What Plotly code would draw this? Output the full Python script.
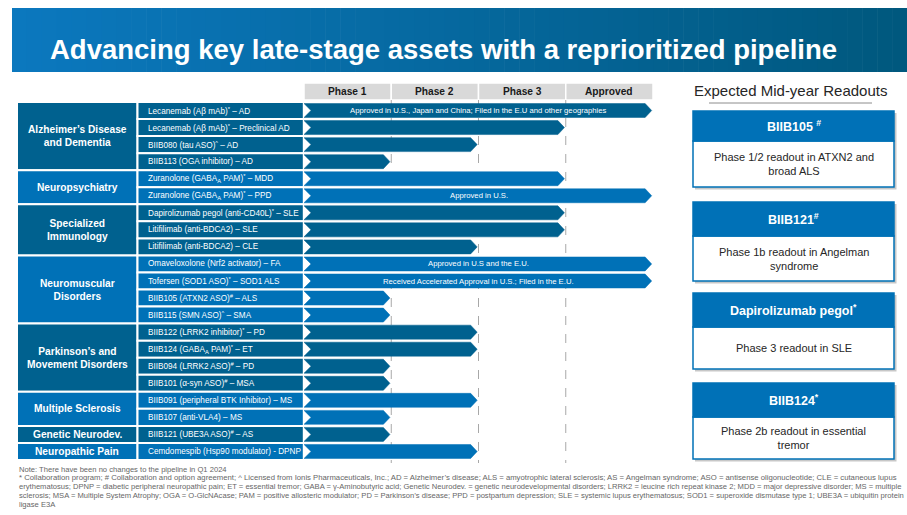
import plotly.graph_objects as go

# ---------------- data ----------------
categories = ["Alzheimer’s Disease<br>and Dementia", "Neuropsychiatry", "Specialized<br>Immunology",
              "Neuromuscular<br>Disorders", "Parkinson’s and<br>Movement Disorders", "Multiple Sclerosis",
              "Genetic Neurodev.", "Neuropathic Pain"]
category_sizes = [4, 2, 3, 4, 4, 2, 1, 1]

programs = [
    "Lecanemab (Aβ mAb)<sup>*</sup> – AD",
    "Lecanemab (Aβ mAb)<sup>*</sup> – Preclinical AD",
    "BIIB080 (tau ASO)<sup>^</sup> – AD",
    "BIIB113 (OGA inhibitor) – AD",
    "Zuranolone (GABA<sub>A</sub> PAM)<sup>*</sup> – MDD",
    "Zuranolone (GABA<sub>A</sub> PAM)<sup>*</sup> – PPD",
    "Dapirolizumab pegol (anti-CD40L)<sup>*</sup> – SLE",
    "Litifilimab (anti-BDCA2) – SLE",
    "Litifilimab (anti-BDCA2) – CLE",
    "Omaveloxolone (Nrf2 activator) – FA",
    "Tofersen (SOD1 ASO)<sup>*</sup> – SOD1 ALS",
    "BIIB105 (ATXN2 ASO)<sup>#</sup> – ALS",
    "BIIB115 (SMN ASO)<sup>^</sup> – SMA",
    "BIIB122 (LRRK2 inhibitor)<sup>*</sup> – PD",
    "BIIB124 (GABA<sub>A</sub> PAM)<sup>*</sup> – ET",
    "BIIB094 (LRRK2 ASO)<sup>#</sup> – PD",
    "BIIB101 (α-syn ASO)<sup>#</sup> – MSA",
    "BIIB091 (peripheral BTK Inhibitor) – MS",
    "BIIB107 (anti-VLA4) – MS",
    "BIIB121 (UBE3A ASO)<sup>#</sup> – AS",
    "Cemdomespib (Hsp90 modulator) - DPNP",
]
stage_reached = [4, 3, 2, 1, 3, 4, 3, 3, 2, 4, 4, 1, 1, 2, 2, 1, 1, 2, 1, 1, 2]
bar_notes = [
    "Approved in U.S., Japan and China; Filed in the E.U and other geographies",
    "", "", "", "",
    "Approved in U.S.",
    "", "", "",
    "Approved in U.S and the E.U.",
    "Received Accelerated Approval in U.S.; Filed in the E.U.",
    "", "", "", "", "", "", "", "", "", "",
]
phase_labels = ["Phase 1", "Phase 2", "Phase 3", "Approved"]

readout_titles = ["BIIB105 <sup>#</sup>", "BIIB121<sup>#</sup>", "Dapirolizumab pegol<sup>*</sup>", "BIIB124<sup>*</sup>"]
readout_texts = ["Phase 1/2 readout in ATXN2 and<br>broad ALS", "Phase 1b readout in Angelman<br>syndrome",
                 "Phase 3 readout in SLE", "Phase 2b readout in essential<br>tremor"]

title_text = "Advancing key late-stage assets with a reprioritized pipeline"
panel_title = "Expected Mid-year Readouts"
footnotes = [
    "Note: There have been no changes to the pipeline in Q1 2024",
    "* Collaboration program; # Collaboration and option agreement; ^ Licensed from Ionis Pharmaceuticals, Inc.; AD = Alzheimer’s disease; ALS = amyotrophic lateral sclerosis; AS = Angelman syndrome; ASO = antisense oligonucleotide; CLE = cutaneous lupus",
    "erythematosus; DPNP = diabetic peripheral neuropathic pain; ET = essential tremor; GABA = γ-Aminobutyric acid; Genetic Neurodev. = genetic neurodevelopmental disorders; LRRK2 = leucine rich repeat kinase 2; MDD = major depressive disorder; MS = multiple",
    "sclerosis; MSA = Multiple System Atrophy; OGA = O-GlcNAcase; PAM = positive allosteric modulator; PD = Parkinson’s disease; PPD = postpartum depression; SLE = systemic lupus erythematosus; SOD1 = superoxide dismutase type 1; UBE3A = ubiquitin protein",
    "ligase E3A",
]
footnote_sizes = [7.6, 7.72, 7.6, 7.6, 7.6]

# ---------------- style ----------------
W, H = 907, 515
FONT = "Liberation Sans, Arial, sans-serif"
DARK = "#00618f"
LIGHT = "#0071b7"
CAT_COLORS = [DARK, LIGHT, DARK, LIGHT, DARK, LIGHT, DARK, LIGHT]


def px(x):
    return x / W


def py(y):
    return 1 - y / H


N = len(programs)
row_cat = []
for ci, n in enumerate(category_sizes):
    row_cat += [ci] * n

fig = go.Figure()
shapes = []
annotations = []

# ---- title banner (horizontal gradient built from slices) ----
c0 = (11, 120, 190)
c1 = (0, 88, 126)
x_start, x_end = 12, 907
nslices = 60
step = (x_end - x_start) / nslices
for k in range(nslices):
    t = k / (nslices - 1)
    col = "rgb(%d,%d,%d)" % tuple(round(c0[j] + (c1[j] - c0[j]) * t) for j in range(3))
    shapes.append(dict(type="rect", xref="paper", yref="paper",
                       x0=px(x_start + k * step), x1=px(x_start + (k + 1) * step + 0.6),
                       y0=py(72), y1=py(8), fillcolor=col, line=dict(width=0), layer="below"))
annotations.append(dict(text="<b>" + title_text + "</b>", xref="paper", yref="paper",
                        x=px(48), y=py(50), xanchor="left", yanchor="middle", showarrow=False,
                        font=dict(family=FONT, size=27.5, color="white")))

# ---- phase header ----
for k, lab in enumerate(phase_labels):
    shapes.append(dict(type="rect", xref="x", yref="paper", x0=k, x1=k + 1, y0=py(100), y1=py(83),
                       fillcolor="#d9d9d9", line=dict(color="white", width=1.5), layer="below"))
    annotations.append(dict(text="<b>" + lab + "</b>", xref="x", yref="paper", x=k + 0.5, y=py(91.5),
                            showarrow=False, xanchor="center", yanchor="middle",
                            font=dict(family=FONT, size=10.2, color="#1a1a1a")))

# ---- dashed phase boundaries ----
for k in range(1, 4):
    shapes.append(dict(type="line", xref="x", yref="paper", x0=k, x1=k, y0=py(100), y1=py(463),
                       line=dict(color="#a8a8a8", width=1, dash="dash"), layer="below"))

# ---- left table ----
start = 0
for ci, (cat, n) in enumerate(zip(categories, category_sizes)):
    shapes.append(dict(type="rect", xref="paper", yref="y", x0=px(17), x1=px(137.5),
                       y0=start - 0.5, y1=start + n - 0.5, fillcolor=CAT_COLORS[ci],
                       line=dict(color="white", width=2), layer="below"))
    annotations.append(dict(text="<b>" + cat + "</b>", xref="paper", yref="y", x=px(77),
                            y=start + (n - 1) / 2, showarrow=False, xanchor="center", yanchor="middle",
                            font=dict(family=FONT, size=10.2, color="white")))
    start += n

for i, name in enumerate(programs):
    col = CAT_COLORS[row_cat[i]]
    shapes.append(dict(type="rect", xref="paper", yref="y", x0=px(137.5), x1=px(303.8),
                       y0=i - 0.5, y1=i + 0.5, fillcolor=col,
                       line=dict(color="white", width=2), layer="below"))
    annotations.append(dict(text=name, xref="paper", yref="y", x=px(145.5), y=i, showarrow=False,
                            xanchor="left", yanchor="middle",
                            font=dict(family=FONT, size=8.2, color="white")))

# ---- chevron bars ----
tip = 0.075
notch = 0.08
hh = 0.41
for i, v in enumerate(stage_reached):
    col = CAT_COLORS[row_cat[i]]
    end = v - 0.015
    xs = [0, end - tip, end, end - tip, 0, notch, 0]
    ys = [i - hh, i - hh, i, i + hh, i + hh, i, i - hh]
    fig.add_trace(go.Scatter(x=xs, y=ys, mode="lines", fill="toself", fillcolor=col,
                             line=dict(width=0.5, color=col), hoverinfo="skip", showlegend=False))
    if bar_notes[i]:
        annotations.append(dict(text=bar_notes[i], xref="x", yref="y", x=2, y=i, showarrow=False,
                                xanchor="center", yanchor="middle",
                                font=dict(family=FONT, size=7.7, color="white")))

# ---- right panel ----
annotations.append(dict(text=panel_title, xref="paper", yref="paper", x=px(790), y=py(90),
                        showarrow=False, xanchor="center", yanchor="middle",
                        font=dict(family=FONT, size=15, color="#262626")))
shapes.append(dict(type="line", xref="paper", yref="paper", x0=px(709), x1=px(872), y0=py(103), y1=py(103),
                   line=dict(color="#8c8c8c", width=1)))

cards = [(111, 141, 187), (202, 236, 281), (293, 327, 369), (383, 417, 459)]
cx0, cx1 = 693, 894
for (top, mid, bot), ttl, txt in zip(cards, readout_titles, readout_texts):
    # shadow
    shapes.append(dict(type="rect", xref="paper", yref="paper", x0=px(cx0 + 2), x1=px(cx1 + 2.5),
                       y0=py(bot + 2.5), y1=py(top + 2), fillcolor="rgba(0,0,0,0.22)", line=dict(width=0)))
    shapes.append(dict(type="rect", xref="paper", yref="paper", x0=px(cx0), x1=px(cx1),
                       y0=py(bot), y1=py(mid), fillcolor="white", line=dict(color=LIGHT, width=1.5)))
    shapes.append(dict(type="rect", xref="paper", yref="paper", x0=px(cx0), x1=px(cx1),
                       y0=py(mid), y1=py(top), fillcolor=LIGHT, line=dict(color=LIGHT, width=1.5)))
    annotations.append(dict(text="<b>" + ttl + "</b>", xref="paper", yref="paper", x=px((cx0 + cx1) / 2),
                            y=py((top + mid) / 2), showarrow=False, xanchor="center", yanchor="middle",
                            font=dict(family=FONT, size=12.5, color="white")))
    annotations.append(dict(text=txt, xref="paper", yref="paper", x=px((cx0 + cx1) / 2),
                            y=py((mid + bot) / 2), showarrow=False, xanchor="center", yanchor="middle",
                            font=dict(family=FONT, size=11, color="#262626")))

# ---- footnotes ----
for j, line in enumerate(footnotes):
    annotations.append(dict(text=line, xref="paper", yref="paper", x=px(17), y=py(469 + 8.9 * j),
                            showarrow=False, xanchor="left", yanchor="middle",
                            font=dict(family=FONT, size=footnote_sizes[j], color="#666666")))

fig.update_layout(
    width=W, height=H, margin=dict(l=0, r=0, t=0, b=0),
    paper_bgcolor="white", plot_bgcolor="rgba(0,0,0,0)",
    xaxis=dict(domain=[px(304), px(653)], range=[0, 4], visible=False, fixedrange=True),
    yaxis=dict(domain=[py(460), py(102)], range=[N - 0.5, -0.5], visible=False, fixedrange=True),
    shapes=shapes, annotations=annotations, showlegend=False,
)

fig.write_html("out.html", config={"displayModeBar": False},
               post_script="document.body.style.margin='0';document.body.style.padding='0';"
                           "document.documentElement.style.overflow='hidden';")
